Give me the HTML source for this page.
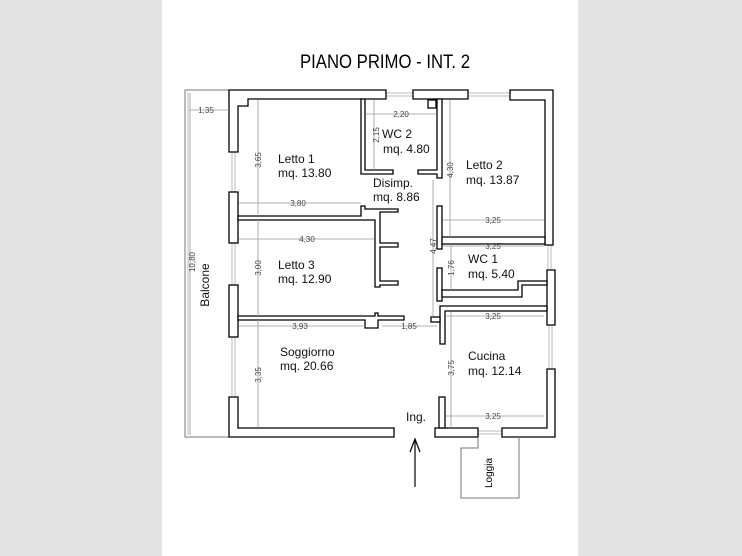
<!DOCTYPE html>
<html><head><meta charset="utf-8"><style>
html,body{margin:0;padding:0;background:#e4e4e4;}
svg{display:block}
text{font-family:"Liberation Sans",sans-serif}
</style></head><body>
<svg width="742" height="556" viewBox="0 0 742 556" xmlns="http://www.w3.org/2000/svg">
<rect x="0" y="0" width="742" height="556" fill="#e4e4e4"/>
<rect x="162" y="0" width="416" height="556" fill="#fff"/>
<text x="385" y="68" font-size="19" text-anchor="middle" textLength="170" lengthAdjust="spacingAndGlyphs">PIANO PRIMO - INT. 2</text>

<!-- balcony -->
<g fill="none" stroke="#777" stroke-width="1">
<polyline points="229,90 185,90 185,437 229,437"/>
<line x1="188" y1="92" x2="188" y2="435" stroke="#bbb"/>
</g>
<!-- windows -->
<g stroke="#bbb" fill="none" stroke-width="1">
<line x1="232" y1="152" x2="232" y2="192"/><line x1="235" y1="152" x2="235" y2="192"/>
<line x1="232" y1="243" x2="232" y2="285"/><line x1="235" y1="243" x2="235" y2="285"/>
<line x1="232" y1="337" x2="232" y2="397"/><line x1="235" y1="337" x2="235" y2="397"/>
<line x1="387" y1="93" x2="413" y2="93"/><line x1="387" y1="96" x2="413" y2="96"/>
<line x1="468" y1="93" x2="510" y2="93"/><line x1="468" y1="96" x2="510" y2="96"/>
<line x1="548" y1="245" x2="548" y2="270"/><line x1="551" y1="245" x2="551" y2="270"/>
<line x1="549" y1="325" x2="549" y2="369"/><line x1="552" y1="325" x2="552" y2="369"/>
<line x1="478" y1="431" x2="502" y2="431"/><line x1="478" y1="434" x2="502" y2="434"/>
</g>

<!-- walls -->
<g fill="#fff" stroke="#000" stroke-width="1.3">
<path d="M229,90 H386 V99 H248 V106 H238 V152 H229 Z"/>
<path d="M413,90 H468 V99 H413 Z"/>
<path d="M510,90 H553 V245 H545 V100 H510 Z"/>
<rect x="229" y="192" width="9" height="51"/>
<rect x="229" y="285" width="9" height="52"/>
<path d="M229,397 H238 V428 H394 V437 H229 Z"/>
<path d="M547,270 H555 V325 H547 Z"/>
<path d="M547,369 H555 V437 H502 V428 H547 Z"/>
<path d="M435,428 H478 V437 H435 Z"/>
<!-- Letto1/Letto3 -->
<path d="M238,216 H361 V206 H365 V209 H398 V212 H380 V243 H398 V247 H380 V281 H398 V285 H380 V287 H375 V220 H238 Z"/>
<!-- Letto3/Soggiorno -->
<path d="M238,316 H375 V313 H378 V316 H404 V320 H378 V328 H365 V320 H238 Z"/>
<!-- WC2 -->
<path d="M361,99 H365 V170 H393 V174 H361 Z"/>
<path d="M418,170 H437 V99 H442 V178 H437 V174 H418 Z"/>
<rect x="428" y="100" width="8" height="8"/>
<!-- Letto2 lower -->
<rect x="437" y="206" width="5" height="43"/>
<path d="M442,237 H545 V244 H442 Z"/>
<!-- WC1 -->
<rect x="437" y="268" width="5" height="33"/>
<path d="M442,290 H518 V281 H547 V285 H522 V297 H442 Z"/>
<!-- Cucina -->
<path d="M440,306 H547 V311 H445 V344 H440 Z"/>
<rect x="431" y="317" width="9" height="5"/>
<rect x="439" y="397" width="6" height="31"/>
</g>
<!-- loggia -->
<polyline points="478,437 478,448 461,448 461,498 519,498 519,437" fill="none" stroke="#777" stroke-width="1"/>
<!-- arrow -->
<g stroke="#000" stroke-width="1.2" fill="none">
<line x1="415" y1="487" x2="415" y2="439"/>
<polyline points="410,452 415,439 420,452"/>
</g>

<!-- dimension lines -->
<g stroke="#999" stroke-width="0.8" fill="none">
<line x1="189" y1="110" x2="229" y2="110"/>
<line x1="190" y1="93" x2="190" y2="435"/>
<line x1="258" y1="100" x2="258" y2="214"/>
<line x1="258" y1="220" x2="258" y2="316"/>
<line x1="258" y1="320" x2="258" y2="427"/>
<line x1="239" y1="203" x2="361" y2="203"/>
<line x1="239" y1="239" x2="374" y2="239"/>
<line x1="239" y1="326" x2="365" y2="326"/>
<line x1="382" y1="326" x2="437" y2="326"/>
<line x1="366" y1="114" x2="436" y2="114"/>
<line x1="374" y1="100" x2="374" y2="170"/>
<line x1="450" y1="100" x2="450" y2="237"/>
<line x1="443" y1="220" x2="544" y2="220"/>
<line x1="443" y1="246" x2="544" y2="246"/>
<line x1="433" y1="180" x2="433" y2="316"/>
<line x1="451" y1="246" x2="451" y2="290"/>
<line x1="446" y1="316" x2="544" y2="316"/>
<line x1="451" y1="312" x2="451" y2="428"/>
<line x1="446" y1="416" x2="544" y2="416"/>
</g>

<g font-size="12" fill="#111">
<text x="278" y="163">Letto 1</text><text x="278" y="177">mq. 13.80</text>
<text x="382" y="138">WC 2</text><text x="383" y="153">mq. 4.80</text>
<text x="373" y="187">Disimp.</text><text x="373" y="201">mq. 8.86</text>
<text x="466" y="169">Letto 2</text><text x="466" y="184">mq. 13.87</text>
<text x="278" y="269">Letto 3</text><text x="278" y="283">mq. 12.90</text>
<text x="468" y="263">WC 1</text><text x="468" y="278">mq. 5.40</text>
<text x="280" y="356">Soggiorno</text><text x="280" y="370">mq. 20.66</text>
<text x="468" y="360">Cucina</text><text x="468" y="375">mq. 12.14</text>
<text x="406" y="421">Ing.</text>
<text transform="translate(209,285) rotate(-90)" text-anchor="middle">Balcone</text>
</g>
<text transform="translate(492,473) rotate(-90)" text-anchor="middle" font-size="10">Loggia</text>

<g font-size="8" fill="#444" text-anchor="middle">
<text x="206" y="113">1,35</text>
<text x="401" y="117">2,20</text>
<text transform="translate(379,135) rotate(-90)">2,15</text>
<text transform="translate(261,160) rotate(-90)">3,65</text>
<text x="298" y="206">3,80</text>
<text x="307" y="242">4,30</text>
<text transform="translate(261,268) rotate(-90)">3,00</text>
<text transform="translate(195,262) rotate(-90)">10,80</text>
<text transform="translate(453,170) rotate(-90)">4,30</text>
<text x="493" y="223">3,25</text>
<text x="493" y="249">3,25</text>
<text transform="translate(436,246) rotate(-90)">4,47</text>
<text transform="translate(454,268) rotate(-90)">1,76</text>
<text x="493" y="319">3,25</text>
<text x="300" y="329">3,93</text>
<text x="409" y="329">1,85</text>
<text transform="translate(454,368) rotate(-90)">3,75</text>
<text transform="translate(261,375) rotate(-90)">3,35</text>
<text x="493" y="419">3,25</text>
</g>
</svg>
</body></html>
